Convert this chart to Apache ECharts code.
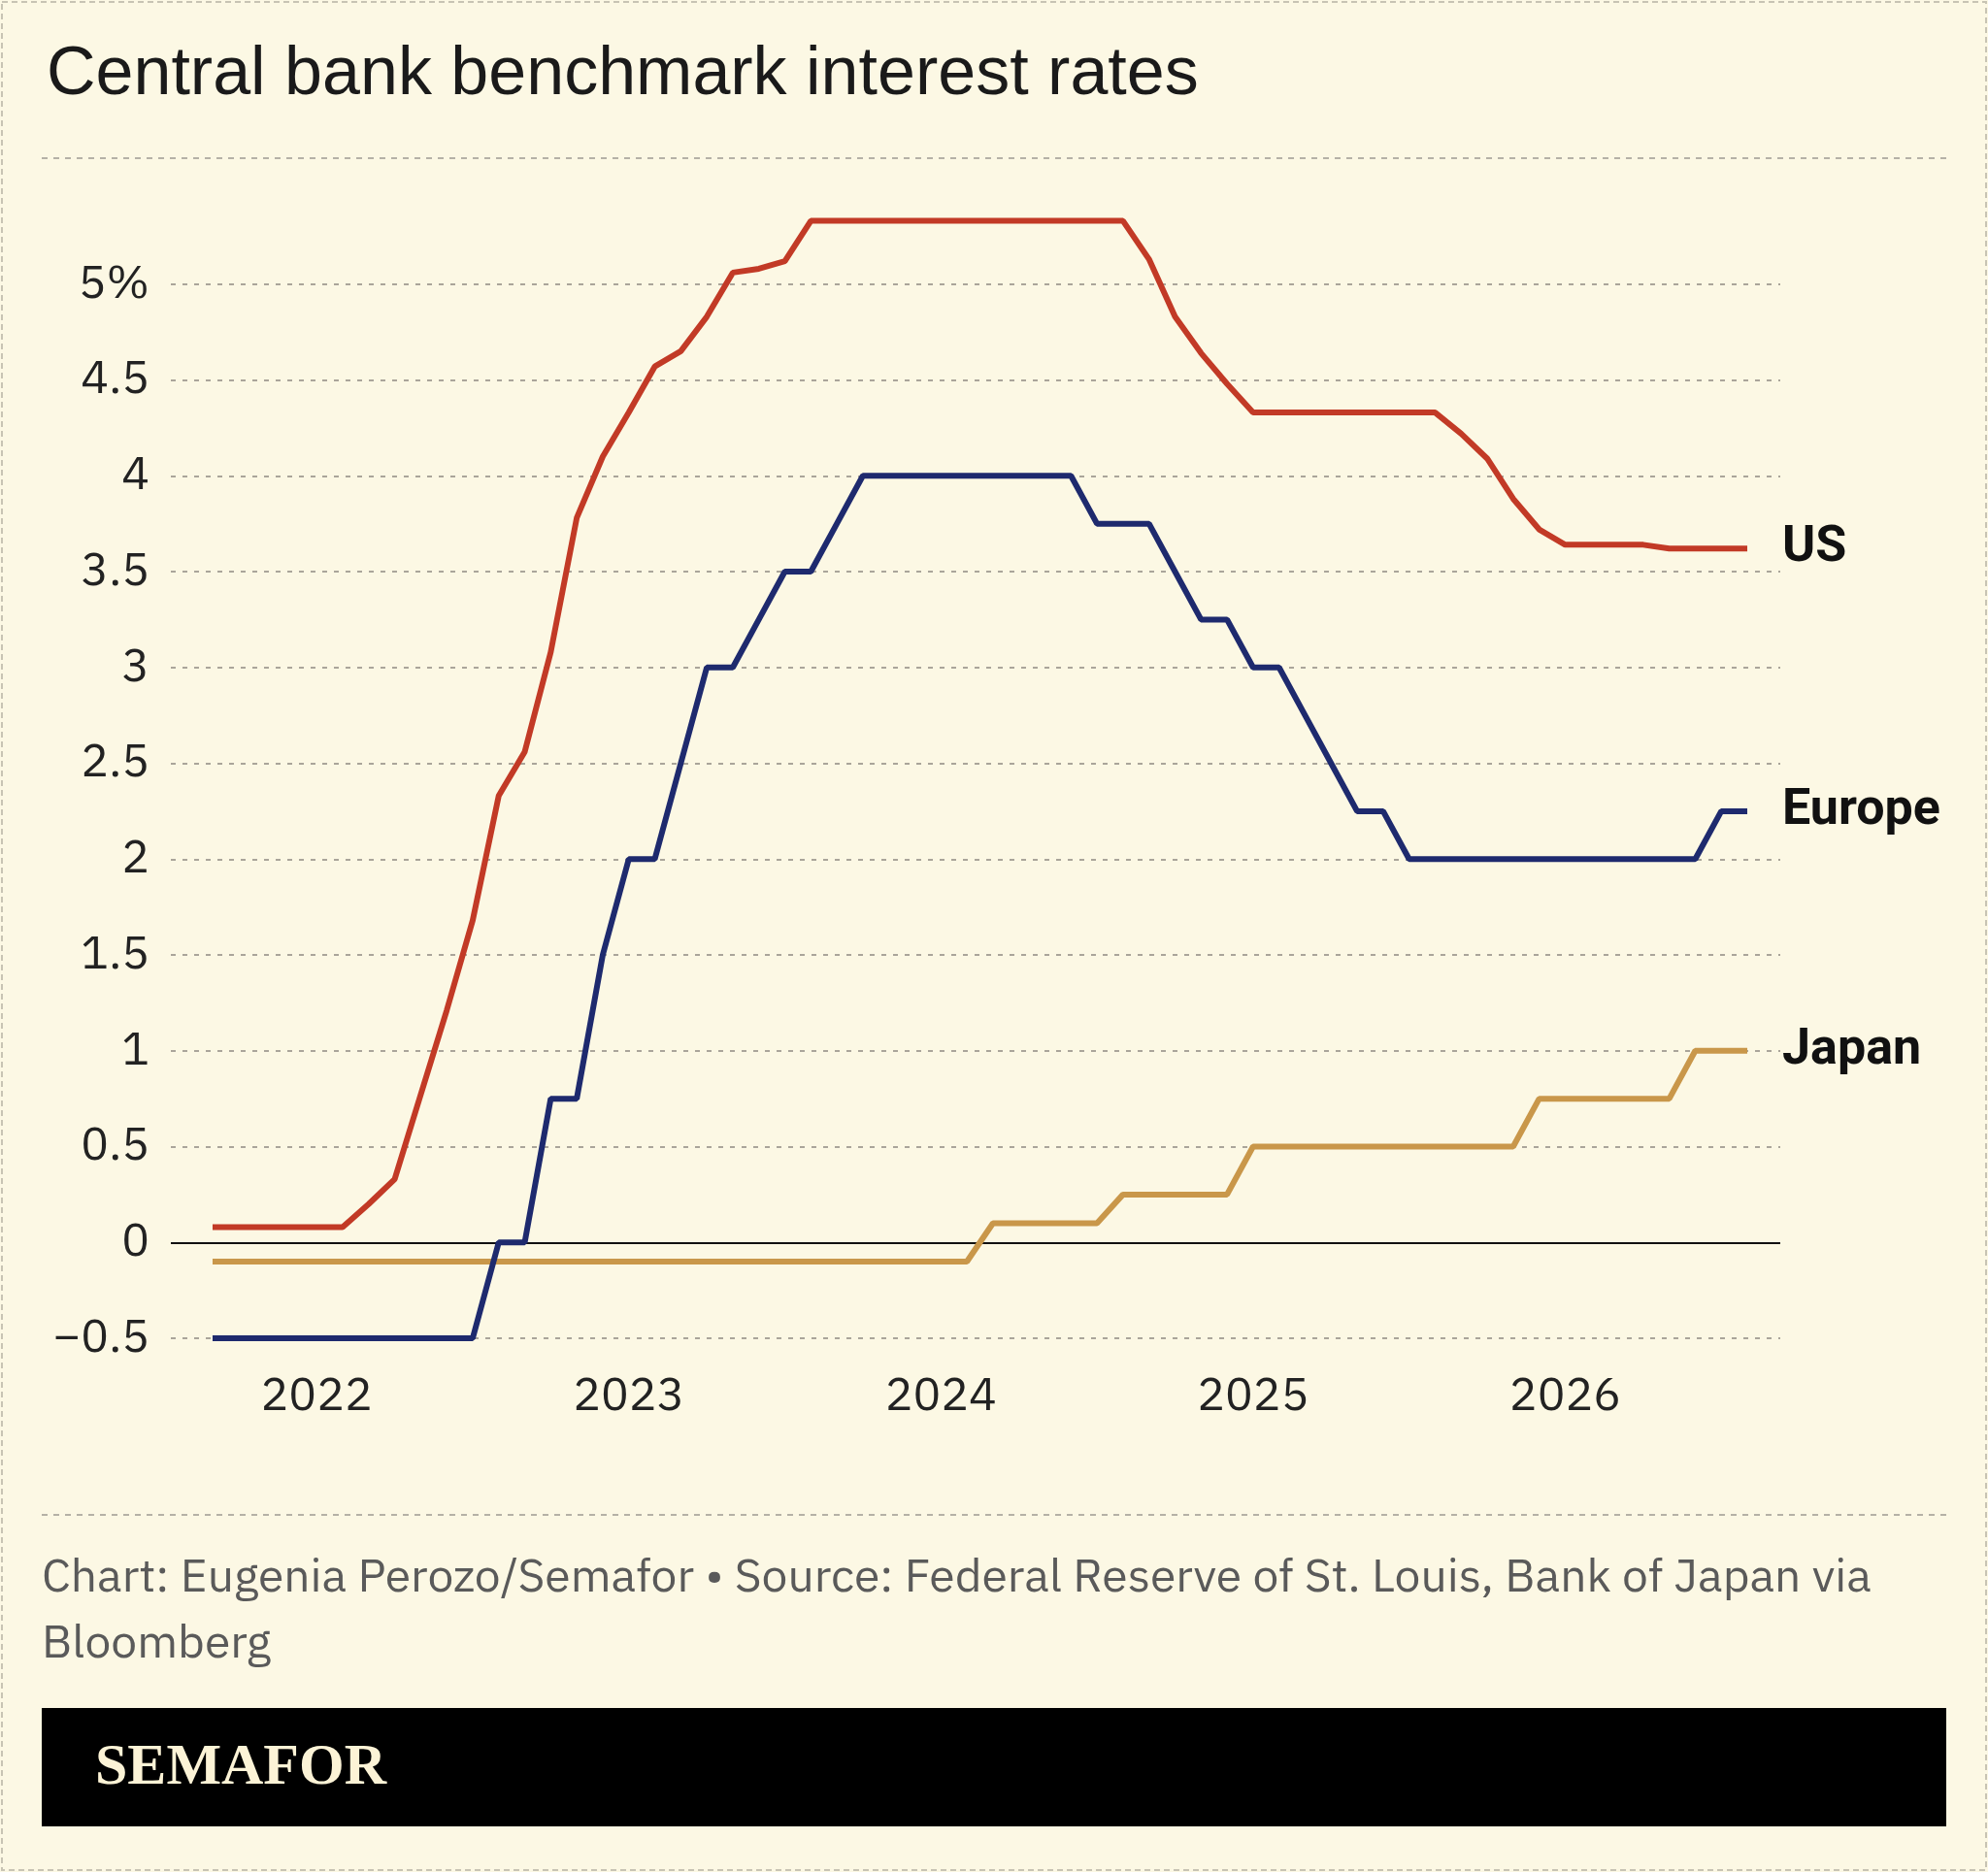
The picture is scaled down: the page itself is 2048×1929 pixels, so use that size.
<!DOCTYPE html>
<html><head><meta charset="utf-8">
<script src="https://cdn.jsdelivr.net/npm/echarts@6/dist/echarts.min.js"></script>
<style>html,body{margin:0;padding:0;background:#fcf8e4}#c{width:2048px;height:1929px}</style>
</head><body><div id="c"></div>
<script>
// monthly points, Sep 2021 .. Aug 2026
const startYear = 2021, startMonth = 9;
const us = [0.08,0.08,0.08,0.08,0.08,0.08,0.20,0.33,0.77,1.21,1.68,2.33,2.56,3.08,3.78,4.10,4.33,4.57,4.65,4.83,5.06,5.08,5.12,5.33,
  5.33,5.33,5.33,5.33,5.33,5.33,5.33,5.33,5.33,5.33,5.33,5.33,5.13,4.83,4.64,4.48,4.33,4.33,4.33,4.33,4.33,4.33,4.33,4.33,
  4.22,4.09,3.88,3.72,3.64,3.64,3.64,3.64,3.62,3.62,3.62,3.62];
const europe = [-0.5,-0.5,-0.5,-0.5,-0.5,-0.5,-0.5,-0.5,-0.5,-0.5,-0.5,0,0,0.75,0.75,1.5,2.0,2.0,2.5,3.0,3.0,3.25,3.5,3.5,
  3.75,4,4,4,4,4,4,4,4,4,3.75,3.75,3.75,3.5,3.25,3.25,3.0,3.0,2.75,2.5,2.25,2.25,2,2,2,2,2,2,2,2,2,2,2,2,2.25,2.25];
const japan = [-0.1,-0.1,-0.1,-0.1,-0.1,-0.1,-0.1,-0.1,-0.1,-0.1,-0.1,-0.1,-0.1,-0.1,-0.1,-0.1,-0.1,-0.1,-0.1,-0.1,-0.1,-0.1,-0.1,-0.1,
  -0.1,-0.1,-0.1,-0.1,-0.1,-0.1,0.1,0.1,0.1,0.1,0.1,0.25,0.25,0.25,0.25,0.25,0.5,0.5,0.5,0.5,0.5,0.5,0.5,0.5,0.5,0.5,0.5,
  0.75,0.75,0.75,0.75,0.75,0.75,1,1,1];
const yearTicks = [2022, 2023, 2024, 2025, 2026];
const gridValues = [-0.5,0.5,1,1.5,2,2.5,3,3.5,4,4.5,5];

const toPoints = arr => arr.map((v, i) => [startYear + (startMonth - 1 + i) / 12, v]);

const font = "'IBM Plex Sans','Noto Sans',sans-serif";
const endLabel = (name) => ({
  show: true, formatter: name, distance: 36, color: '#111',
  fontFamily: "'Liberation Sans Narrow','Roboto',sans-serif", fontWeight: 'bold', fontSize: 52
});
const line = (name, data, color) => ({
  name, type: 'line', data: toPoints(data), symbol: 'none', z: 3,
  lineStyle: { color, width: 6 }, endLabel: endLabel(name)
});

const chart = echarts.init(document.getElementById('c'), null, { renderer: 'canvas' });
chart.setOption({
  backgroundColor: '#fcf8e4',
  animation: false,
  title: { text: 'Central bank benchmark interest rates', left: 43, top: 38,
    textStyle: { fontFamily: "'Liberation Sans',Arial,sans-serif", fontWeight: 'normal', fontSize: 70, color: '#1a1a1a' } },
  grid: { left: 176, right: 214, top: 194, bottom: 1929 - 1379 },
  xAxis: { type: 'value', min: 2021.533, max: 2026.689,
    splitLine: { show: false }, axisLine: { show: false }, axisTick: { show: false },
    axisLabel: { customValues: yearTicks, formatter: v => String(Math.round(v)), fontFamily: font,
      fontSize: 48, color: '#222', margin: 36 } },
  yAxis: { type: 'value', min: -0.5, max: 5.5, interval: 0.5,
    splitLine: { show: false }, axisLine: { show: false }, axisTick: { show: false },
    axisLabel: { fontFamily: font, fontSize: 48, color: '#222', margin: 22,
      formatter: v => v === 5 ? '5%' : v === 5.5 ? '' : (v < 0 ? '\u2212' + Math.abs(v) : String(v)) } },
  series: [
    { name: 'grid', type: 'line', data: [], z: 1, silent: true,
      markLine: { silent: true, symbol: 'none', label: { show: false }, z: 1,
        data: gridValues.map(v => ({ yAxis: v, lineStyle: { type: [5, 7], color: '#aaa59a', width: 2 } }))
          .concat([{ yAxis: 0, lineStyle: { type: 'solid', color: '#111', width: 2 } }]) } },
    line('Japan', japan, '#c9974a'),
    line('Europe', europe, '#1e2a6e'),
    line('US', us, '#c23a26')
  ],
  graphic: [
    { type: 'rect', shape: { x: 2, y: 2, width: 2044, height: 1925 }, style: { fill: null, stroke: '#c8c4b4', lineWidth: 2, lineDash: [6, 4] } },
    { type: 'line', shape: { x1: 43, y1: 163, x2: 2005, y2: 163 }, style: { stroke: '#b5b1a6', lineWidth: 2, lineDash: [6, 6] } },
    { type: 'line', shape: { x1: 43, y1: 1561, x2: 2005, y2: 1561 }, style: { stroke: '#b5b1a6', lineWidth: 2, lineDash: [6, 6] } },
    { type: 'text', left: 43, top: 1592, style: { text: 'Chart: Eugenia Perozo/Semafor \u2022 Source: Federal Reserve of St. Louis, Bank of Japan via\nBloomberg',
      font: "48px 'IBM Plex Sans','Noto Sans',sans-serif", fill: '#5a5a5a', lineHeight: 68 } },
    { type: 'rect', shape: { x: 43, y: 1760, width: 1962, height: 122 }, style: { fill: '#000' } },
    { type: 'text', left: 98, top: 1792, style: { text: 'SEMAFOR', font: "bold 60px 'Liberation Serif','DejaVu Serif',serif", fill: '#fcf3d6' } }
  ]
});
</script></body></html>
